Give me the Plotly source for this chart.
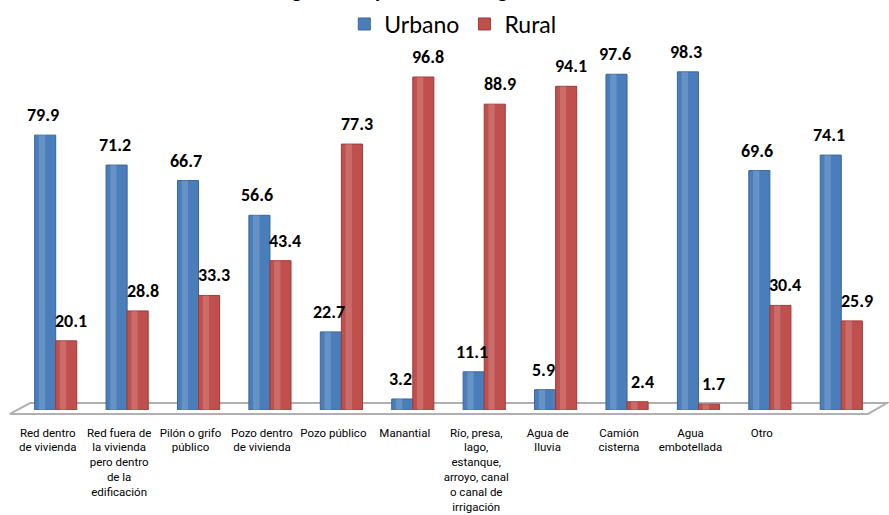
import plotly.graph_objects as go

categories = [
    "Red dentro<br>de vivienda",
    "Red fuera de<br>la vivienda<br>pero dentro<br>de la<br>edificación",
    "Pilón o grifo<br>público",
    "Pozo dentro<br>de vivienda",
    "Pozo público",
    "Manantial",
    "Río, presa,<br>lago,<br>estanque,<br>arroyo, canal<br>o canal de<br>irrigación",
    "Agua de<br>lluvia",
    "Camión<br>cisterna",
    "Agua<br>embotellada",
    "Otro",
    "",
]
urbano = [79.9, 71.2, 66.7, 56.6, 22.7, 3.2, 11.1, 5.9, 97.6, 98.3, 69.6, 74.1]
rural = [20.1, 28.8, 33.3, 43.4, 77.3, 96.8, 88.9, 94.1, 2.4, 1.7, 30.4, 25.9]

# title is mostly cut off at the top of the reference image
title_text = "Origen de la provisión de agua"

BLUE = "#4A7EBB"
RED = "#C0504D"
W = 0.295  # width of one bar (category units)

x = list(range(len(categories)))

fig = go.Figure()
fig.add_trace(go.Bar(x=x, y=urbano, name="Urbano", width=W, offset=-W,
                     marker=dict(color=BLUE, line=dict(color="#3A659A", width=1))))
fig.add_trace(go.Bar(x=x, y=rural, name="Rural", width=W, offset=0,
                     marker=dict(color=RED, line=dict(color="#9C3B39", width=1))))
# soft highlight stripe to hint at the cylinder look
for vals, off in [(urbano, -W), (rural, 0)]:
    fig.add_trace(go.Bar(x=x, y=vals, width=W * 0.3, offset=off + W * 0.2,
                         marker=dict(color="rgba(255,255,255,0.16)", line=dict(width=0)),
                         showlegend=False, hoverinfo="skip"))

# value labels over each bar
label_font = dict(family="Carlito, Lato, sans-serif", size=18, color="#000000")
for i in x:
    fig.add_annotation(x=i - W / 2, y=urbano[i], text=f"<b>{urbano[i]}</b>", showarrow=False,
                       yanchor="bottom", yshift=7, xshift=-2, font=label_font)
    fig.add_annotation(x=i + W / 2, y=rural[i], text=f"<b>{rural[i]}</b>", showarrow=False,
                       yanchor="bottom", yshift=7, xshift=5, font=label_font)

# fake 3d floor
fig.add_shape(type="path", xref="paper", yref="paper", layer="below",
              path="M -0.0117 -0.0116 L 0.0117 0.0203 L 1.0117 0.0203 L 0.9895 -0.0116 Z",
              line=dict(color="#B0B0B0", width=2), fillcolor="#FFFFFF")

fig.add_annotation(x=0.44, y=1, xref="paper", yref="paper", yanchor="bottom", yshift=60,
                   text=f"<b>{title_text}</b>", showarrow=False,
                   font=dict(family="Carlito, Lato, sans-serif", size=21, color="#000000"))

fig.update_layout(
    width=889, height=515,
    margin=dict(l=20, r=12, t=66, b=105, autoexpand=False),
    plot_bgcolor="white", paper_bgcolor="white",
    barmode="overlay",
    showlegend=True,
    legend=dict(orientation="h", x=0.505, xanchor="center", y=1.122, yanchor="middle",
                font=dict(family="Lato, sans-serif", size=23, color="#000000"),
                itemwidth=30),
)
fig.update_xaxes(range=[-0.5, 11.5], tickmode="array", tickvals=x, ticktext=categories,
                 showgrid=False, zeroline=False, showline=False, ticks="",
                 ticklabelshift=-8, ticklabelstandoff=14,
                 tickfont=dict(family="Liberation Sans Narrow, Roboto, sans-serif", size=11.5, color="#000000"))
fig.update_yaxes(range=[0, 100], visible=False)

fig.write_html("out.html", config={"displayModeBar": False},
               post_script="document.body.style.margin='0';")
